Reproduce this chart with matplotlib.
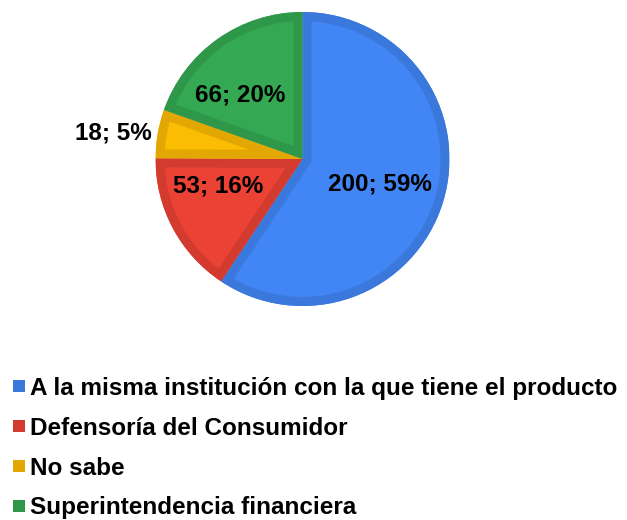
import matplotlib
matplotlib.use("Agg")
import matplotlib.pyplot as plt
from matplotlib.lines import Line2D
from matplotlib.patches import Wedge

categories = ["A la misma institución con la que tiene el producto",
              "Defensoría del Consumidor",
              "No sabe",
              "Superintendencia financiera"]
values = [200, 53, 18, 66]
percent_labels = ["59%", "16%", "5%", "20%"]
fill_colors = ["#4285F4", "#EA4335", "#FBBC04", "#34A853"]
edge_colors = ["#3A78DC", "#D33B2F", "#E3A703", "#2F974A"]

plt.rcParams['font.family'] = ['Liberation Sans', 'DejaVu Sans']

W, H = 627, 520
fig = plt.figure(figsize=(W / 100, H / 100), dpi=100)

cx, cy, r = 302.5, 159, 147
ax = fig.add_axes([(cx - r) / W, 1 - (cy + r) / H, 2 * r / W, 2 * r / H])
wedges, _ = ax.pie(values, colors=fill_colors, startangle=90, counterclock=False,
                   radius=1, wedgeprops=dict(linewidth=0))
for w, ec in zip(wedges, edge_colors):
    b = Wedge(w.center, w.r, w.theta1, w.theta2, facecolor='none',
              edgecolor=ec, linewidth=13, joinstyle='miter')
    ax.add_patch(b)
    b.set_clip_path(w)
ax.set_xlim(-1, 1)
ax.set_ylim(-1, 1)
ax.set_aspect('auto')
ax.axis('off')

# label positions (text placement, in pie units)
label_pos = [(0.53, -0.17, 'center'), (-0.575, -0.185, 'center'),
             (-1.025, 0.177, 'right'), (-0.425, 0.435, 'center')]
for v, p, (x, y, ha) in zip(values, percent_labels, label_pos):
    ax.text(x, y, f"{v}; {p}", ha=ha, va='center', fontsize=17.5,
            fontweight='bold', color='black', clip_on=False)

handles = [Line2D([], [], linestyle='none', marker='s', markersize=8.6,
                  markerfacecolor=c, markeredgewidth=0) for c in edge_colors]
fig.legend(handles, categories, loc='upper left', bbox_to_anchor=(0.018, 1 - 377 / H),
           frameon=False, prop=dict(weight='bold', size=17.5),
           handlelength=0.6, handletextpad=0.17, labelspacing=0.69,
           borderaxespad=0, borderpad=0)

fig.savefig("out.png", dpi=100)
